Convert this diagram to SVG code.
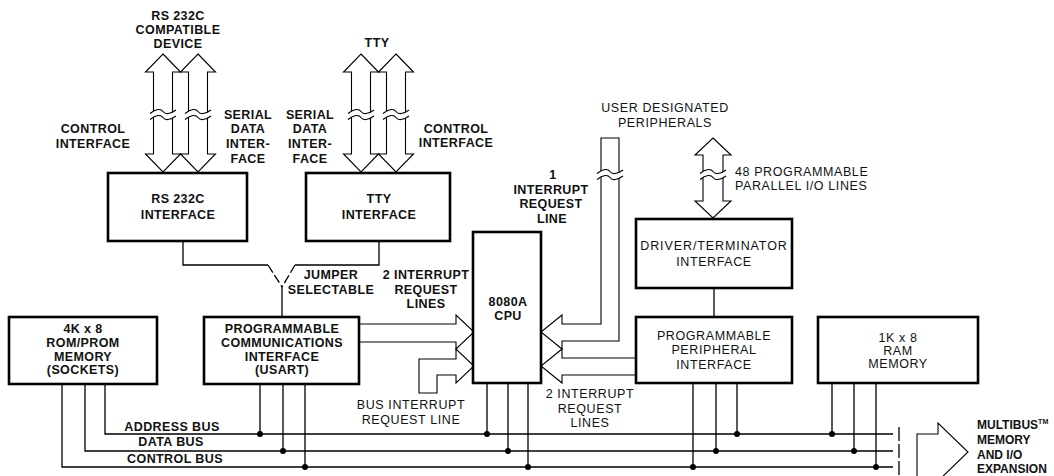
<svg xmlns="http://www.w3.org/2000/svg" xmlns:xlink="http://www.w3.org/1999/xlink" width="1054" height="476" viewBox="0 0 1054 476">
<style>
.box{fill:#fff;stroke:#000;stroke-width:2.6}
.ln{fill:none;stroke:#000;stroke-width:1.3}
.jmp{fill:none;stroke:#000;stroke-width:1.3;stroke-dasharray:9 3}
.arr{fill:#fff;stroke:#000;stroke-width:1.1;stroke-linejoin:miter}
.dot{fill:#000}
text{font-family:"Liberation Sans",Arial,sans-serif;font-size:12.5px;font-weight:bold;letter-spacing:0.4px;text-anchor:middle;fill:#111}
.r{font-weight:normal;letter-spacing:0.6px}
.l{text-anchor:start}
.mb{font-size:12px;letter-spacing:0}
</style>
<defs>
<g id="brk">
<path d="M-13,-1.5 C-7,-6.5 -2,-6.5 0,-3.5 C2,-0.5 7,-0.5 13,-5 L13,1 C7,5.5 2,5.5 0,2.5 C-2,-0.5 -7,-0.5 -13,4.5 Z" fill="#fff" stroke="none"/>
<path d="M-13,-1.5 C-7,-6.5 -2,-6.5 0,-3.5 C2,-0.5 7,-0.5 13,-5" fill="none" stroke="#000" stroke-width="1.1"/>
<path d="M-13,4.5 C-7,-0.5 -2,-0.5 0,2.5 C2,5.5 7,5.5 13,1" fill="none" stroke="#000" stroke-width="1.1"/>
</g>
</defs>

<g id="connectors">
<!-- serial double arrows -->
<polygon class="arr" points="163,54 180.5,72 172.5,72 172.5,154 180.5,154 163,172 145.5,154 153.5,154 153.5,72 145.5,72"/>
<polygon class="arr" points="198,54 215.5,72 207.5,72 207.5,154 215.5,154 198,172 180.5,154 188.5,154 188.5,72 180.5,72"/>
<polygon class="arr" points="361,54 378.5,72 370.5,72 370.5,154 378.5,154 361,172 343.5,154 351.5,154 351.5,72 343.5,72"/>
<polygon class="arr" points="396,54 413.5,72 405.5,72 405.5,154 413.5,154 396,172 378.5,154 386.5,154 386.5,72 378.5,72"/>
<use xlink:href="#brk" x="163" y="115"/>
<use xlink:href="#brk" x="198" y="115"/>
<use xlink:href="#brk" x="361" y="115"/>
<use xlink:href="#brk" x="396" y="115"/>
<!-- 48 I/O lines -->
<polygon class="arr" points="713,138 731,155 723,155 723,201 731,201 713,218 695,201 703,201 703,155 695,155"/>
<use xlink:href="#brk" x="713" y="175"/>
<!-- 1 interrupt request line -->
<polygon class="arr" points="601,138 619,138 619,341 562,341 562,349 541,332 562,315 562,324 601,324"/>
<use xlink:href="#brk" x="610" y="175"/>
<!-- PPI interrupt lines -->
<path class="arr" d="M636,358 L562,358 L562,349 L541,366 L562,383 L562,375 L636,375"/>
<!-- USART interrupt lines -->
<path class="arr" d="M359,324 L456,324 L456,315 L474,332 L456,349 L456,342 L359,342"/>
<!-- bus interrupt request line -->
<polygon class="arr" points="456,359 419,359 419,393 437,393 437,375 456,375 456,383 474,366 456,349"/>
<!-- jumper -->
<polyline class="ln" points="183,241 183,265 268,265"/>
<polyline class="ln" points="379,241 379,265 295,265"/>
<line class="jmp" x1="268" y1="265" x2="282" y2="287"/>
<line class="jmp" x1="295" y1="265" x2="282" y2="287"/>
<line class="ln" x1="282" y1="287" x2="282" y2="317"/>
<!-- driver to PPI -->
<line class="ln" x1="714" y1="288" x2="714" y2="317"/>
<!-- buses -->
<polyline class="ln" points="105,384 105,434 893,434"/>
<polyline class="ln" points="85,384 85,451 893,451"/>
<polyline class="ln" points="62,384 62,467 893,467"/>
<path class="ln" d="M260,384V434 M283,384V451 M305,384V467 M487,383V434 M508,383V451 M528,383V467 M737,383V434 M716,383V451 M693,383V467 M832,383V434 M854,383V451 M876,383V467"/>
<g class="dot">
<circle cx="260" cy="434" r="3"/><circle cx="283" cy="451" r="3"/><circle cx="305" cy="467" r="3"/>
<circle cx="487" cy="434" r="3"/><circle cx="508" cy="451" r="3"/><circle cx="528" cy="467" r="3"/>
<circle cx="737" cy="434" r="3"/><circle cx="716" cy="451" r="3"/><circle cx="693" cy="467" r="3"/>
<circle cx="832" cy="434" r="3"/><circle cx="854" cy="451" r="3"/><circle cx="876" cy="467" r="3"/>
</g>
<path class="ln" d="M899,427V441 M899,444V458 M899,461V475"/>
<polygon class="arr" points="917,480 917,434 938,434 938,423 968,452 938,481"/>
</g>

<g id="rs232c-interface">
<rect class="box" x="108" y="173" width="139" height="68"/>
<text x="178" y="203">RS 232C</text>
<text x="178" y="219">INTERFACE</text>
</g>
<g id="tty-interface">
<rect class="box" x="306" y="173" width="144" height="68"/>
<text x="379" y="203">TTY</text>
<text x="379" y="219">INTERFACE</text>
</g>
<g id="rom">
<rect class="box" x="9" y="317" width="148" height="67"/>
<text x="83" y="333">4K x 8</text>
<text x="83" y="347">ROM/PROM</text>
<text x="83" y="361">MEMORY</text>
<text x="83" y="374">(SOCKETS)</text>
</g>
<g id="usart">
<rect class="box" x="204" y="317" width="155" height="67"/>
<text x="282" y="333">PROGRAMMABLE</text>
<text x="282" y="347">COMMUNICATIONS</text>
<text x="282" y="361">INTERFACE</text>
<text x="282" y="374">(USART)</text>
</g>
<g id="cpu">
<rect class="box" x="473" y="232" width="68" height="151"/>
<text x="508" y="306">8080A</text>
<text x="508" y="320">CPU</text>
</g>
<g id="driver">
<rect class="box" x="636" y="219" width="156" height="69"/>
<text class="r" x="714" y="250" style="letter-spacing:0.9px">DRIVER/TERMINATOR</text>
<text class="r" x="714" y="266">INTERFACE</text>
</g>
<g id="ppi">
<rect class="box" x="636" y="317" width="156" height="66"/>
<text class="r" x="714" y="340">PROGRAMMABLE</text>
<text class="r" x="714" y="354">PERIPHERAL</text>
<text class="r" x="714" y="369">INTERFACE</text>
</g>
<g id="ram">
<rect class="box" x="818" y="317" width="160" height="66"/>
<text class="r" x="898" y="342">1K x 8</text>
<text class="r" x="898" y="355">RAM</text>
<text class="r" x="898" y="368">MEMORY</text>
</g>

<g id="labels">
<text x="178" y="20">RS 232C</text>
<text x="178" y="34">COMPATIBLE</text>
<text x="178" y="48">DEVICE</text>
<text x="93" y="133">CONTROL</text>
<text x="93" y="148">INTERFACE</text>
<text x="248" y="119">SERIAL</text>
<text x="248" y="133">DATA</text>
<text x="248" y="148">INTER-</text>
<text x="248" y="163">FACE</text>
<text x="377" y="47">TTY</text>
<text x="310" y="119">SERIAL</text>
<text x="310" y="133">DATA</text>
<text x="310" y="148">INTER-</text>
<text x="310" y="163">FACE</text>
<text x="456" y="133">CONTROL</text>
<text x="456" y="147">INTERFACE</text>
<text class="r" x="665" y="112">USER DESIGNATED</text>
<text class="r" x="665" y="127">PERIPHERALS</text>
<text x="553" y="179">1</text>
<text x="551" y="194">INTERRUPT</text>
<text x="551" y="208">REQUEST</text>
<text x="552" y="223">LINE</text>
<text class="r l" x="735" y="176">48 PROGRAMMABLE</text>
<text class="r l" x="735" y="190">PARALLEL I/O LINES</text>
<text x="331" y="279">JUMPER</text>
<text x="331" y="294">SELECTABLE</text>
<text x="426" y="279">2 INTERRUPT</text>
<text x="426" y="294">REQUEST</text>
<text x="426" y="308">LINES</text>
<text class="r" x="411" y="409">BUS INTERRUPT</text>
<text class="r" x="411" y="424">REQUEST LINE</text>
<text class="r" x="590" y="398">2 INTERRUPT</text>
<text class="r" x="590" y="413">REQUEST</text>
<text class="r" x="590" y="427">LINES</text>
<text x="172" y="431">ADDRESS BUS</text>
<text x="171" y="446">DATA BUS</text>
<text x="175" y="463">CONTROL BUS</text>
<text class="l mb" x="977" y="429">MULTIBUS<tspan font-size="7" dy="-5">TM</tspan></text>
<text class="l mb" x="977" y="444">MEMORY</text>
<text class="l mb" x="977" y="459">AND I/O</text>
<text class="l mb" x="977" y="473">EXPANSION</text>
</g>
</svg>
